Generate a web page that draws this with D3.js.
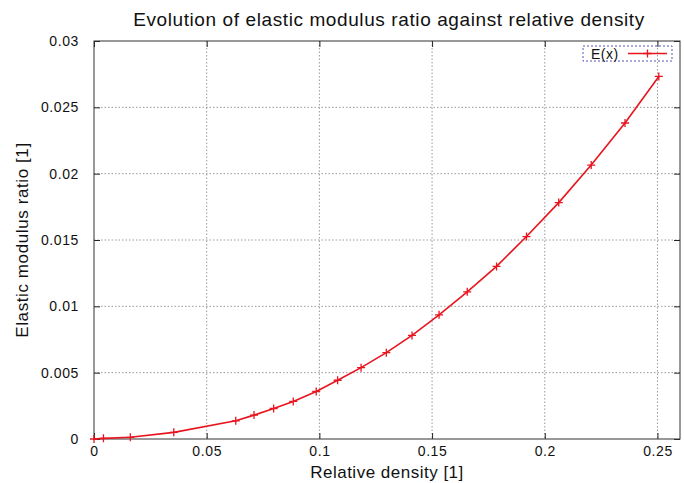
<!DOCTYPE html>
<html lang="en">
<head>
<meta charset="UTF-8">
<title>Elastic modulus ratio</title>
<script src="https://d3js.org/d3.v7.min.js"></script>
<style>
    body { margin: 0; background: #fff; }
    svg { font-family: "Liberation Sans", Arial, sans-serif; }
    .grid line { stroke: #999; stroke-dasharray: 1.5,2; stroke-width: 1; }
</style>
</head>
<body>
<div id="chart"></div>
<script>
// values
var density = [0, 0.0042, 0.0161, 0.0354, 0.0629, 0.0710, 0.0797, 0.0884, 0.0986, 0.1081,
    0.1185, 0.1297, 0.1411, 0.1531, 0.1656, 0.1786, 0.1919, 0.2062, 0.2206, 0.2356, 0.2506];
var modulus = [0, 0.00005, 0.00013, 0.0005, 0.00137, 0.0018, 0.0023, 0.00283, 0.00358, 0.00443,
    0.00538, 0.00651, 0.00781, 0.00936, 0.01109, 0.01301, 0.01526, 0.01782, 0.02065, 0.02382, 0.02733];
var xTicks = [0, 0.05, 0.1, 0.15, 0.2, 0.25];
var yTicks = [0, 0.005, 0.01, 0.015, 0.02, 0.025, 0.03];

var width = 684, height = 483;
var margin = {top: 41, right: 4, bottom: 44, left: 94};
var w = width - margin.left - margin.right;
var h = height - margin.top - margin.bottom;

var svg = d3.select("#chart").append("svg")
    .attr("width", width)
    .attr("height", height);

var g = svg.append("g").attr("transform", `translate(${margin.left},${margin.top})`);

var x = d3.scaleLinear().domain([0, 0.26]).range([0, w]);
var y = d3.scaleLinear().domain([0, 0.03]).range([h, 0]);

// grid
g.append("g").attr("class", "grid")
    .selectAll("line").data(xTicks.slice(1)).enter().append("line")
    .attr("x1", d => x(d)).attr("x2", d => x(d))
    .attr("y1", 0).attr("y2", h);
g.append("g").attr("class", "grid")
    .selectAll("line").data(yTicks.slice(1, -1)).enter().append("line")
    .attr("x1", 0).attr("x2", w)
    .attr("y1", d => y(d)).attr("y2", d => y(d));

// axes, gnuplot style: ticks pointing in, mirrored
function styleAxis(sel) {
    sel.select(".domain").remove();
    sel.selectAll("text").attr("font-size", 14).attr("letter-spacing", 0.6).attr("fill", "#111")
        .attr("font-family", "'Liberation Sans', Arial, sans-serif");
    sel.selectAll(".tick line").attr("stroke", "#222");
}
g.append("g").attr("transform", `translate(0,${h})`)
    .call(d3.axisBottom(x).tickValues(xTicks).tickSize(-6).tickPadding(7).tickFormat(d3.format("")))
    .call(styleAxis);
g.append("g")
    .call(d3.axisTop(x).tickValues(xTicks).tickSize(-6).tickFormat(""))
    .call(styleAxis);
g.append("g")
    .call(d3.axisLeft(y).tickValues(yTicks).tickSize(-6).tickPadding(15).tickFormat(d3.format("")))
    .call(styleAxis);
g.append("g").attr("transform", `translate(${w},0)`)
    .call(d3.axisRight(y).tickValues(yTicks).tickSize(-6).tickFormat(""))
    .call(styleAxis);

g.append("rect")
    .attr("width", w).attr("height", h)
    .attr("fill", "none").attr("stroke", "#333").attr("stroke-width", 1);

// series
var pts = density.map((d, i) => [d, modulus[i]]);
g.append("path")
    .datum(pts)
    .attr("fill", "none")
    .attr("stroke", "#e8141e")
    .attr("stroke-width", 1.6)
    .attr("d", d3.line().x(d => x(d[0])).y(d => y(d[1])));

g.selectAll(".pt").data(pts).enter().append("path")
    .attr("class", "pt")
    .attr("d", "M-4,0H4M0,-4V4")
    .attr("transform", d => `translate(${x(d[0])},${y(d[1])})`)
    .attr("stroke", "#e8141e").attr("stroke-width", 1.3);

// legend
var lg = g.append("g").attr("transform", `translate(${w - 97},5)`);
lg.append("rect").attr("width", 89).attr("height", 15)
    .attr("fill", "none").attr("stroke", "#5555bb").attr("stroke-dasharray", "2,2");
lg.append("text").attr("x", 8).attr("y", 12.5).attr("font-size", 14).attr("letter-spacing", 0.5)
    .attr("fill", "#111").text("E(x)");
lg.append("line").attr("x1", 45).attr("x2", 84).attr("y1", 7.5).attr("y2", 7.5)
    .attr("stroke", "#e8141e").attr("stroke-width", 1.6);
lg.append("path").attr("d", "M-4,0H4M0,-4V4").attr("transform", "translate(64.5,7.5)")
    .attr("stroke", "#e8141e").attr("stroke-width", 1.3);

// titles
svg.append("text")
    .attr("x", margin.left + w / 2 + 2).attr("y", 26)
    .attr("text-anchor", "middle").attr("font-size", 19).attr("letter-spacing", 0.6).attr("fill", "#111")
    .text("Evolution of elastic modulus ratio against relative density");
svg.append("text")
    .attr("x", margin.left + w / 2).attr("y", 478)
    .attr("text-anchor", "middle").attr("font-size", 17).attr("letter-spacing", 0.5).attr("fill", "#111")
    .text("Relative density [1]");
svg.append("text")
    .attr("transform", `translate(28,${margin.top + h / 2}) rotate(-90)`)
    .attr("text-anchor", "middle").attr("font-size", 17).attr("letter-spacing", 0.6).attr("fill", "#111")
    .text("Elastic modulus ratio [1]");
</script>
</body>
</html>
